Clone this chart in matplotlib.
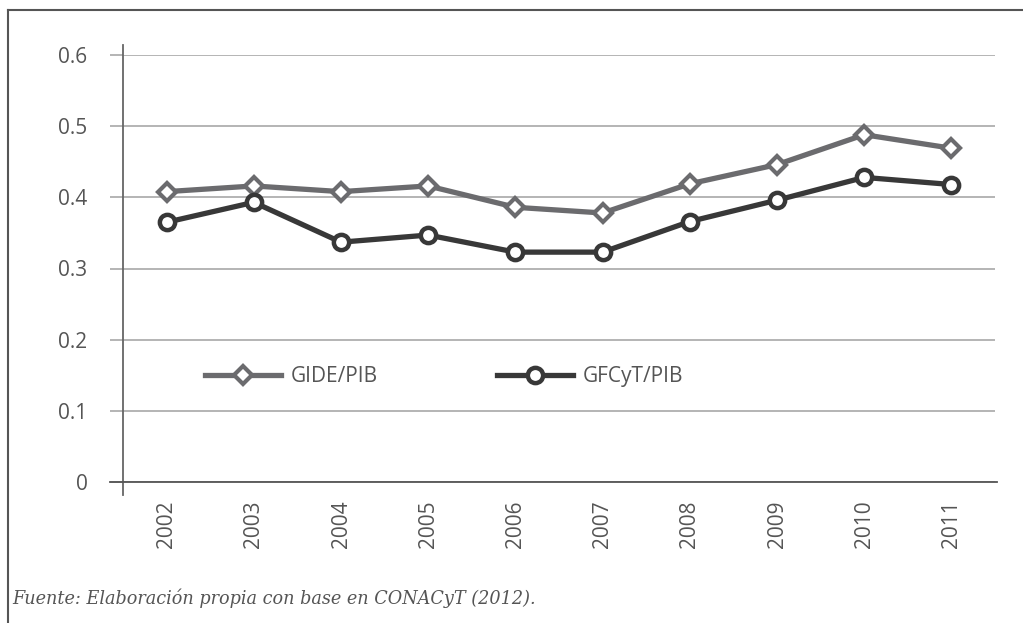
import matplotlib.pyplot as plt
from matplotlib.lines import Line2D

# data
years = ['2002', '2003', '2004', '2005', '2006', '2007', '2008', '2009', '2010', '2011']
gide_pib = [0.408, 0.416, 0.408, 0.416, 0.386, 0.378, 0.419, 0.446, 0.488, 0.469]
gfcyt_pib = [0.365, 0.393, 0.337, 0.347, 0.323, 0.323, 0.366, 0.396, 0.428, 0.418]
yticks = [0, 0.1, 0.2, 0.3, 0.4, 0.5, 0.6]
ytick_labels = ['0', '0.1', '0.2', '0.3', '0.4', '0.5', '0.6']

plt.rcParams['font.family'] = ['Open Sans', 'DejaVu Sans']

fig = plt.figure(figsize=(10.23, 6.23), dpi=100)
ax = fig.add_axes([123 / 1023, 1 - 482 / 623, 872 / 1023, 427 / 623])

x = range(len(years))
ax.plot(x, gide_pib, color='#6b6b6e', lw=3.8, marker='D', ms=9, mfc='white',
        mec='#6b6b6e', mew=3, label='GIDE/PIB', zorder=3)
ax.plot(x, gfcyt_pib, color='#383838', lw=3.8, marker='o', ms=11, mfc='white',
        mec='#383838', mew=3.2, label='GFCyT/PIB', zorder=4)

ax.set_xlim(-0.5, len(years) - 0.5)
ax.set_ylim(0, 0.6)
ax.set_yticks(yticks)
ax.set_yticklabels(ytick_labels)
ax.set_xticks(list(x))
ax.set_xticklabels(years, rotation=90)

ax.grid(axis='y', color='#a8a8a8', lw=1.2)
ax.set_axisbelow(True)
ax.tick_params(axis='y', length=9.5, width=1.2, color='#a8a8a8', labelsize=15,
               labelcolor='#555555', pad=16)
ax.tick_params(axis='x', length=0, labelsize=15, labelcolor='#555555', pad=13)

for s in ['top', 'right', 'left']:
    ax.spines[s].set_visible(False)
ax.spines['bottom'].set_color('#555555')
ax.spines['bottom'].set_linewidth(1.3)
ax.spines['bottom'].set_bounds(-0.65, len(years) - 0.5 + 0.02)

# vertical axis line runs a bit past both ends
ax.add_line(Line2D([-0.5, -0.5], [-0.018, 0.614], color='#666666', lw=1.3,
                   clip_on=False, zorder=2))

ax.legend(loc='center left', bbox_to_anchor=(0.094, 0.246), ncol=2, frameon=False,
          fontsize=15, handlelength=3.65, columnspacing=5.75, handletextpad=0.45,
          borderpad=0, borderaxespad=0, labelcolor='#555555')

# outer frame (top and left edges visible)
fig.add_artist(Line2D([8 / 1023, 1.0], [1 - 10 / 623, 1 - 10 / 623], color='#555555', lw=1.5))
fig.add_artist(Line2D([8 / 1023, 8 / 1023], [0, 1 - 10 / 623], color='#555555', lw=1.5))

fig.text(12 / 1023, 1 - 598 / 623, 'Fuente: Elaboración propia con base en CONACyT (2012).',
         family=['DejaVu Serif'], style='italic', fontsize=12.7,
         color='#555555', va='center', ha='left')

fig.savefig('out.png', dpi=100)
